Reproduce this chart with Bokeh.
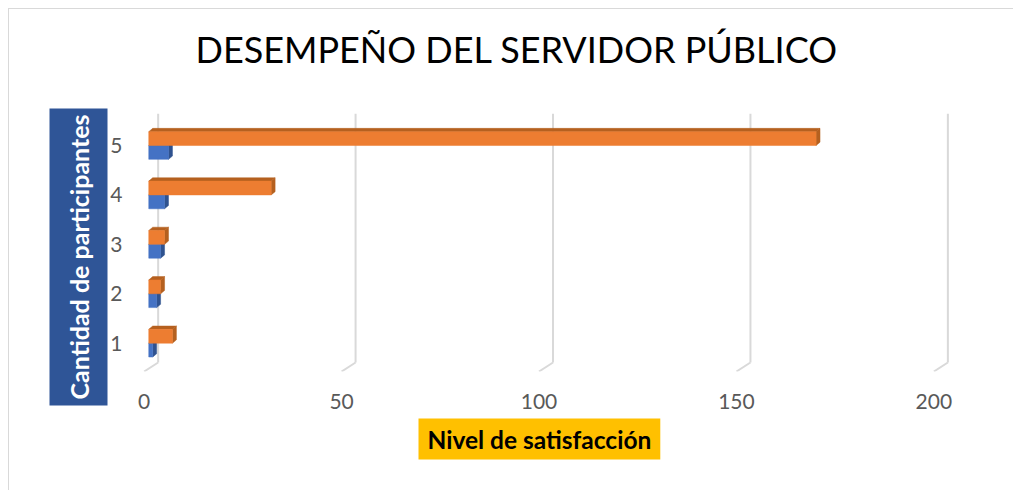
from bokeh.plotting import figure
from bokeh.models import Range1d, Title, FixedTicker
from bokeh.embed import file_html
from bokeh.resources import INLINE

# ---------------- data ----------------
categories = [1, 2, 3, 4, 5]
serie_azul = [1, 2, 3, 4, 5]
serie_naranja = [6, 3, 4, 31, 169]
x_ticks = [0, 50, 100, 150, 200]
y_labels = ["1", "2", "3", "4", "5"]
chart_title = "DESEMPEÑO DEL SERVIDOR PÚBLICO"
x_title = "Nivel de satisfacción"
y_title = "Cantidad de participantes"

# ---------------- styles ----------------
ORANGE, ORANGE_DARK = "#ED7D31", "#B5601F"
BLUE, BLUE_DARK = "#4472C4", "#2F528F"
GRID = "#D9D9D9"
LABEL = "#595959"
FONT = "Lato"

X0, X1 = -3.2, 207.0
Y0, Y1 = 0.427, 5.648
BAR_H = 0.28
BAR_SHIFT = 1.17     # bar front face shift (units)
BAR_DX, BAR_DY = 1.0, 0.067   # bar 3D depth
GRID_DX, GRID_DY = 3.55, 0.182  # grid wall depth

p = figure(width=1005, height=482, x_range=Range1d(X0, X1), y_range=Range1d(Y0, Y1),
           output_backend="svg", toolbar_location=None,
           min_border_left=122, min_border_right=53, min_border_top=104, min_border_bottom=120)
p.margin = (8, 0, 0, 8)
p.outline_line_color = None
p.grid.visible = False
p.styles = {"border-left": "1px solid #D9D9D9", "border-top": "1px solid #D9D9D9"}

# 3D gridlines (back wall + floor diagonal)
gx_back = [t + GRID_DX for t in x_ticks]
p.segment(x0=gx_back, y0=[Y0 + GRID_DY] * len(x_ticks), x1=gx_back, y1=[Y1] * len(x_ticks),
          line_color=GRID, line_width=2)
p.segment(x0=x_ticks, y0=[Y0] * len(x_ticks), x1=gx_back, y1=[Y0 + GRID_DY] * len(x_ticks),
          line_color=GRID, line_width=2)


def bar3d(vals, bottoms, face, dark):
    lefts = [BAR_SHIFT] * len(vals)
    rights = [v + BAR_SHIFT for v in vals]
    tops = [b + BAR_H for b in bottoms]
    # top faces
    p.patches(xs=[[l, r, r + BAR_DX, l + BAR_DX] for l, r in zip(lefts, rights)],
              ys=[[t, t, t + BAR_DY, t + BAR_DY] for t in tops],
              fill_color=dark, line_color=dark, line_width=0.5)
    # side faces
    p.patches(xs=[[r, r, r + BAR_DX, r + BAR_DX] for r in rights],
              ys=[[b, t, t + BAR_DY, b + BAR_DY] for b, t in zip(bottoms, tops)],
              fill_color=dark, line_color=dark, line_width=0.5)
    # front faces
    p.quad(left=lefts, right=rights, bottom=bottoms, top=tops,
           fill_color=face, line_color=face, line_width=0.5)


bar3d(serie_azul, [c - BAR_H for c in categories], BLUE, BLUE_DARK)
bar3d(serie_naranja, categories, ORANGE, ORANGE_DARK)

# axes
p.xaxis.ticker = FixedTicker(ticks=x_ticks)
p.yaxis.ticker = FixedTicker(ticks=categories)
p.yaxis.major_label_overrides = {c: l for c, l in zip(categories, y_labels)}
for ax in (p.xaxis, p.yaxis):
    ax.axis_line_color = None
    ax.major_tick_line_color = None
    ax.minor_tick_line_color = None
    ax.major_label_text_font = FONT
    ax.major_label_text_font_size = "21px"
    ax.major_label_text_color = LABEL
p.xaxis.major_label_standoff = 16
p.yaxis.axis_label = None
p.yaxis.major_tick_out = 0
p.yaxis.major_tick_in = 0
p.yaxis.major_label_standoff = 9

# titles
spacer = Title(text=" ", text_font=FONT, text_font_size="2px", standoff=27)
p.add_layout(spacer, "above")
t_main = Title(text=chart_title, align="left", offset=64, text_font=FONT,
               text_font_size="36px", text_font_style="normal", text_color="black",
               vertical_align="top", standoff=20)
p.add_layout(t_main, "above")

t_x = Title(text=x_title, align="left", offset=287, text_font=FONT, text_font_size="24.5px",
            text_font_style="bold", text_color="black", background_fill_color="#FFC000",
            padding=(9, 6), standoff=10)
p.add_layout(t_x, "below")

t_y = Title(text=y_title, align="left", offset=-34, text_font=FONT, text_font_size="25px",
            text_font_style="bold", text_color="white", background_fill_color="#2F5597",
            padding=(6, 14), standoff=0)
p.add_layout(t_y, "left")

open("out.html", "w").write(file_html(p, INLINE))
